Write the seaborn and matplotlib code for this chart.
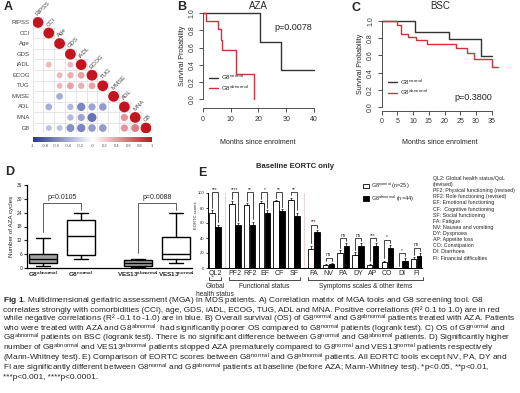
import matplotlib
matplotlib.use('Agg')
import matplotlib.pyplot as plt
from matplotlib.lines import Line2D
from matplotlib.patches import Patch
import matplotlib.transforms as mtransforms
import numpy as np
import pandas as pd
import seaborn as sns

W, H = 520, 393

# ---------------- data ----------------
# A) correlation matrix (lower triangle, read from circle size / colour)
mga_vars = ['RIPSS', 'CCI', 'Age', 'GDS', 'iADL', 'ECOG', 'TUG', 'MMSE', 'ADL', 'MNA', 'G8']
corr_row = ['iADL', 'iADL', 'ECOG', 'ECOG', 'ECOG', 'TUG', 'TUG', 'TUG', 'TUG', 'MMSE',
            'ADL', 'ADL', 'ADL', 'ADL', 'ADL', 'MNA', 'MNA', 'MNA', 'MNA',
            'G8', 'G8', 'G8', 'G8', 'G8', 'G8', 'G8', 'G8']
corr_col = ['CCI', 'GDS', 'Age', 'GDS', 'iADL', 'Age', 'GDS', 'iADL', 'ECOG', 'Age',
            'CCI', 'GDS', 'iADL', 'ECOG', 'TUG', 'GDS', 'iADL', 'ECOG', 'ADL',
            'CCI', 'Age', 'GDS', 'iADL', 'ECOG', 'TUG', 'ADL', 'MNA']
corr_r = [0.3, 0.3, 0.3, 0.35, 0.4, 0.3, 0.4, 0.35, 0.4, -0.4,
          -0.4, -0.35, -0.6, -0.45, -0.5, -0.35, -0.45, -0.7, 0.45,
          -0.3, -0.3, -0.55, -0.6, -0.5, -0.5, 0.45, 0.55]

# B) Kaplan-Meier, AZA
aza_norm_t = [0, 20.5, 28, 40]
aza_norm_s = [1.0, 0.667, 0.333, 0.333]
aza_abn_t = [0, 1, 5.5, 6.5, 7, 12, 18.5]
aza_abn_s = [1.0, 0.909, 0.818, 0.69, 0.57, 0.286, 0.0]

# C) Kaplan-Meier, BSC
bsc_norm_t = [0, 10.5, 21.5, 31.5, 35]
bsc_norm_s = [1.0, 0.875, 0.79, 0.59, 0.59]
bsc_abn_t = [0, 5, 6, 8.5, 11, 14.5, 23.5, 27, 29.5, 35, 37]
bsc_abn_s = [1.0, 0.95, 0.85, 0.81, 0.78, 0.73, 0.69, 0.63, 0.56, 0.47, 0.47]

# D) number of AZA cycles: min, q1, median, q3, max
cyc_g8_abn = [1, 2, 3.8, 6, 13]
cyc_g8_norm = [4, 5.5, 14, 21, 24]
cyc_ves_abn = [0.3, 1, 2.3, 3.6, 4]
cyc_ves_norm = [2, 4, 6, 13.5, 24]
d_pvals = ['p=0.0105', 'p=0.0088']

# E) EORTC scores
eortc_cats = ['QL2', 'PF2', 'RF2', 'EF', 'CF', 'SF', 'FA', 'NV', 'PA', 'DY', 'AP', 'CO', 'DI', 'FI']
eortc_groups = ['Global\nhealth status', 'Functional status', 'Symptoms scales & other items']
eortc_group_sizes = [1, 5, 8]
eortc_norm = [74, 86, 84, 87, 89, 91, 26, 4, 20, 18, 4, 8, 0, 12]
eortc_abn = [55, 57, 58, 74, 76, 70, 48, 5, 29, 29, 29, 27, 10, 16]
eortc_norm_se = [3, 3, 3, 2, 2, 3, 4, 2, 4, 3, 2, 2, 0, 3]
eortc_abn_se = [3, 3, 4, 3, 3, 4, 3, 2, 4, 4, 4, 4, 3, 4]
eortc_sig = ['***', '****', '**', '*', '**', '**', '***', 'ns', 'ns', 'ns', '***', '*', '*', 'ns']

# ---------------- style ----------------
sns.set_theme(style='white')
plt.rcParams['font.family'] = ['Liberation Sans', 'DejaVu Sans']
plt.rcParams['mathtext.fontset'] = 'custom'
plt.rcParams['mathtext.rm'] = 'Liberation Sans'
plt.rcParams['mathtext.bf'] = 'Liberation Sans:bold'
plt.rcParams['mathtext.default'] = 'regular'

NORM = 'G8$^{normal}$'
ABN = 'G8$^{abnormal}$'
red = '#d3313a'
dark = '#333333'
corr_cmap = sns.blend_palette(['#26369a', '#ffffff', '#c4141f'], as_cmap=True)

fig = plt.figure(figsize=(W / 100, H / 100), dpi=100)


def px_axes(x0, y0, x1, y1):
    return fig.add_axes([x0 / W, 1 - y1 / H, (x1 - x0) / W, (y1 - y0) / H])


def ftext(x, y, s, **kw):
    return fig.text(x / W, 1 - y / H, s, **kw)


# panel letters
for letter, x, y in [('A', 4, 7), ('B', 177, 7), ('C', 351, 8), ('D', 5, 172), ('E', 198, 173)]:
    ftext(x, y, letter, fontsize=9, fontweight='bold', va='center', ha='left')

# ---------------- A: correlation matrix ----------------
axA = px_axes(32.6, 17.2, 151.4, 133.3)
nv = len(mga_vars)
idx = {v: i for i, v in enumerate(mga_vars)}
cm = pd.DataFrame({'row': corr_row + mga_vars, 'col': corr_col + mga_vars,
                   'r': corr_r + [1.0] * nv})
cm['x'] = cm['col'].map(idx)
cm['y'] = cm['row'].map(idx)
cm['size'] = cm['r'].abs()
for k in range(nv + 1):
    axA.plot([-0.5, min(k, nv - 1) + 0.5], [k - 0.5, k - 0.5], color='#dddddd', lw=0.5, zorder=0)
    axA.plot([k - 0.5, k - 0.5], [max(k - 1, 0) - 0.5, nv - 0.5], color='#dddddd', lw=0.5, zorder=0)
sns.scatterplot(data=cm, x='x', y='y', hue='r', palette=corr_cmap, hue_norm=(-1, 1),
                size='size', sizes=(0, 60), size_norm=(0, 1), legend=False,
                linewidth=0, ax=axA, zorder=3)
axA.set_xlim(-0.5, nv - 0.5)
axA.set_ylim(nv - 0.5, -0.5)
axA.axis('off')
for v, i in idx.items():
    axA.text(-0.75, i, v, ha='right', va='center', fontsize=4.3, color='#444444')
    axA.text(i + 0.05, i - 0.55, v, ha='left', va='bottom', rotation=45,
             rotation_mode='anchor', fontsize=4.3, color='#444444')

caxA = px_axes(33, 137, 152, 142)
sm = plt.cm.ScalarMappable(cmap=corr_cmap, norm=plt.Normalize(-1, 1))
cb_ticks = np.round(np.arange(-1, 1.01, 0.2), 1)
cb = fig.colorbar(sm, cax=caxA, orientation='horizontal', ticks=cb_ticks)
cb.outline.set_visible(False)
cb.ax.tick_params(length=0, labelsize=3, pad=1.5, colors='#555555')
cb.ax.set_xticklabels(['%g' % t for t in cb_ticks])


# ---------------- B, C: survival ----------------
def km_panel(ax, t_n, s_n, t_a, s_a, xmax, xticks, title, ptxt, pxy, legxy, drop, cx):
    dfk = pd.concat([pd.DataFrame({'t': t_n, 's': s_n, 'g': 'normal'}),
                     pd.DataFrame({'t': t_a, 's': s_a, 'g': 'abnormal'})])
    sns.lineplot(data=dfk, x='t', y='s', hue='g', palette={'normal': dark, 'abnormal': red},
                 drawstyle='steps-post', estimator=None, sort=False, legend=False,
                 lw=1.0, ax=ax)
    ax.set_xlim(0, xmax)
    ax.set_ylim(-0.04, 1.04)
    ax.set_xticks(xticks)
    ax.set_yticks(np.round(np.arange(0, 1.01, 0.2), 1))
    ax.set_yticklabels(['%.1f' % v for v in np.arange(0, 1.01, 0.2)])
    ax.tick_params(direction='out', length=3, width=0.6, labelsize=5, pad=2.5,
                   colors='#333333', bottom=True, left=True)
    plt.setp(ax.get_yticklabels(), rotation=90, va='center')
    sns.despine(ax=ax)
    ax.spines['bottom'].set_position(('outward', drop))
    ax.spines['bottom'].set_bounds(xticks[0], xticks[-1])
    ax.spines['left'].set_bounds(0, 1)
    for s in ('left', 'bottom'):
        ax.spines[s].set_linewidth(0.6)
        ax.spines[s].set_color('#333333')
    ax.set_xlabel('')
    ax.set_ylabel('')
    ftext(cx, 142, 'Months since enrolment', fontsize=5, ha='center', va='center', color='#222222')
    bb = ax.get_position()
    fig.text(bb.x0 - 21 / W, (bb.y0 + bb.y1) / 2, 'Survival Probability', rotation=90,
             fontsize=5, ha='center', va='center', color='#222222')
    ftext(cx, 6, title, fontsize=7, ha='center', va='center')
    ftext(pxy[0], pxy[1], ptxt, fontsize=6.5, ha='center', va='center')
    hl = [Line2D([], [], color=dark, lw=1.0), Line2D([], [], color=red, lw=1.0)]
    ax.legend(hl, [NORM, ABN], loc='lower left', bbox_to_anchor=legxy, frameon=False,
              fontsize=4.5, handlelength=1.5, handletextpad=0.4, labelspacing=0.2,
              borderaxespad=0)


axB = px_axes(203, 9.9, 318.4, 102.4)
km_panel(axB, aza_norm_t, aza_norm_s, aza_abn_t, aza_abn_s, 41.6, [0, 10, 20, 30, 40],
         'AZA', 'p=0.0078', (293, 28), (0.03, 0.08), 4.0, 258)

axC = px_axes(381.7, 17.2, 502.7, 110.8)
km_panel(axC, bsc_norm_t, bsc_norm_s, bsc_abn_t, bsc_abn_s, 38.5, list(range(0, 36, 5)),
         'BSC', 'p=0.3800', (473, 97), (0.03, 0.12), 0.0, 440)

# ---------------- D: boxplots ----------------
axD = px_axes(26.7, 185, 192, 268)
dfD = pd.DataFrame({
    'cycles': cyc_g8_abn + cyc_g8_norm + cyc_ves_abn + cyc_ves_norm,
    'tool': ['G8'] * 10 + ['VES13'] * 10,
    'status': ['abnormal'] * 5 + ['normal'] * 5 + ['abnormal'] * 5 + ['normal'] * 5})
sns.boxplot(data=dfD, x='tool', y='cycles', hue='status', hue_order=['abnormal', 'normal'],
            palette={'abnormal': '#a3a3a3', 'normal': 'white'}, whis=(0, 100), width=0.8,
            gap=0.26, linecolor='black', linewidth=1.0, legend=False, ax=axD)
axD.set_xlim(-0.37, 1.37)
axD.set_ylim(0, 36)
axD.set_yticks(range(0, 37, 6))
box_x = [g + d for g in (0, 1) for d in (-0.2, 0.2)]
axD.set_xticks(box_x)
axD.set_xticklabels([ABN, NORM, 'VES13$^{abnormal}$', 'VES13$^{normal}$'],
                    fontsize=4.6, fontweight='bold')
axD.tick_params(axis='y', direction='out', length=2, width=0.8, labelsize=3.5, pad=1, left=True)
axD.tick_params(axis='x', length=0, pad=1.5)
axD.set_xlabel('')
axD.set_ylabel('Number of AZA cycles', fontsize=4.5, labelpad=2)
sns.despine(ax=axD)
for s in ['left', 'bottom']:
    axD.spines[s].set_linewidth(0.9)
    axD.spines[s].set_color('black')
groups_D = [(cyc_g8_abn, cyc_g8_norm), (cyc_ves_abn, cyc_ves_norm)]
top = max(max(a) for pair in groups_D for a in pair) + 4
for gi, (a, n) in enumerate(groups_D):
    xa, xn = box_x[2 * gi], box_x[2 * gi + 1]
    axD.plot([xa, xa, xn, xn], [max(a) + 2.5, top, top, max(n) + 1], color='#444444', lw=0.6)
    axD.text((xa + xn) / 2, top + 1.2, d_pvals[gi], ha='center', va='bottom', fontsize=5)

# ---------------- E: EORTC bars ----------------
axE = px_axes(208, 193, 422, 268)
grp_idx = np.repeat(np.arange(len(eortc_groups)), eortc_group_sizes)
pos = np.arange(len(eortc_cats)) + 0.36 * grp_idx
nc = len(eortc_cats)
dfE = pd.DataFrame({'pos': np.r_[pos, pos], 'score': eortc_norm + eortc_abn,
                    'grp': ['normal'] * nc + ['abnormal'] * nc})
sns.barplot(data=dfE, x='pos', y='score', hue='grp', hue_order=['normal', 'abnormal'],
            palette={'normal': 'white', 'abnormal': 'black'}, native_scale=True,
            width=0.82, gap=0.1, edgecolor='black', linewidth=0.6, errorbar=None,
            legend=False, ax=axE)
off = 0.82 / 4
axE.errorbar(pos - off, eortc_norm, yerr=[np.zeros(nc), eortc_norm_se], fmt='none',
             ecolor='black', elinewidth=0.5, capsize=1.0, capthick=0.5)
axE.errorbar(pos + off, eortc_abn, yerr=[np.zeros(nc), eortc_abn_se], fmt='none',
             ecolor='black', elinewidth=0.5, capsize=1.0, capthick=0.5)
axE.set_xlim(-0.48, pos[-1] + 0.36)
axE.set_ylim(0, 100)
axE.set_yticks(range(0, 101, 20))
axE.set_xticks(pos)
axE.set_xticklabels(eortc_cats, fontsize=5)
axE.tick_params(axis='y', direction='out', length=1.5, width=0.6, labelsize=3, pad=1, left=True)
axE.tick_params(axis='x', length=0, pad=1.5)
axE.set_xlabel('')
axE.set_ylabel('EORTC scores', fontsize=3, labelpad=2)
axE.yaxis.set_label_coords(-0.045, 0.7)
sns.despine(ax=axE)
for s in ['left', 'bottom']:
    axE.spines[s].set_linewidth(0.7)
    axE.spines[s].set_color('black')
# group separators
starts = np.cumsum([0] + eortc_group_sizes[:-1])
for st in starts[1:]:
    axE.axvline((pos[st - 1] + pos[st]) / 2, color='#ead6d6', lw=0.8, zorder=0)
# significance brackets
tops_n = np.array(eortc_norm) + np.array(eortc_norm_se)
tops_a = np.array(eortc_abn) + np.array(eortc_abn_se)
br_y = np.maximum(tops_n, tops_a) + 7
br_y[br_y > 70] = br_y[br_y > 70].max()
for k in range(nc):
    xs = [pos[k] - off, pos[k] - off, pos[k] + off, pos[k] + off]
    axE.plot(xs, [tops_n[k] + 3, br_y[k], br_y[k], tops_a[k] + 3], color='black', lw=0.5,
             clip_on=False)
    axE.text(pos[k], br_y[k] + 0.5, eortc_sig[k], ha='center', va='bottom', fontsize=3.5,
             clip_on=False)
# group brackets under the axis
trE = mtransforms.blended_transform_factory(axE.transData, axE.transAxes)
for gi, (st, sz) in enumerate(zip(starts, eortc_group_sizes)):
    x0, x1 = pos[st] - 0.42, pos[st + sz - 1] + 0.42
    axE.plot([x0, x0, x1, x1], [-0.115, -0.165, -0.165, -0.115], color='black', lw=0.5,
             transform=trE, clip_on=False)
    axE.text((x0 + x1) / 2, -0.2, eortc_groups[gi], transform=trE, ha='center', va='top',
             fontsize=4.8, linespacing=1.1)
ftext(295, 166, 'Baseline EORTC only', fontsize=5.5, fontweight='bold', ha='center', va='center')
fig.legend([Patch(facecolor='white', edgecolor='black', lw=0.6),
            Patch(facecolor='black', edgecolor='black', lw=0.6)],
           [NORM + ' (n=25)', ABN + ' (n=44)'], loc='upper left',
           bbox_to_anchor=(363 / W, 1 - 181 / H), frameon=False, fontsize=4,
           handlelength=1.0, handleheight=0.9, handletextpad=0.5, labelspacing=0.35,
           borderaxespad=0, borderpad=0)
abbrev = ('QL2: Global health status/QoL\n(revised)\nPF2: Physical functioning (revised)\n'
          'RF2: Role functioning (revised)\nEF: Emotional functioning\nCF:  Cognitive functioning\n'
          'SF: Social functioning\nFA: Fatigue\nNV: Nausea and vomiting\nDY: Dyspnoea\n'
          'AP: Appetite loss\nCO: Constipation\nDI: Diarrhoea\nFI: Financial difficulties')
ftext(433, 176, abbrev, fontsize=3.8, ha='left', va='top', linespacing=1.28, color='#222222')

# ---------------- caption ----------------
caption = [
    r'$\mathbf{Fig\ 1}$. Multidimensional geriatric assessment (MGA) in MDS patients. A) Correlation matrix of MGA tools and G8 screening tool. G8',
    'correlates strongly with comorbidities (CCI), age, GDS, iADL, ECOG, TUG, ADL and MNA. Positive correlations (R\u00b2 0.1 to 1.0) are in red',
    'while negative correlations (R\u00b2 -0.1 to -1.0) are in blue. B) Overall survival (OS) of ' + NORM + ' and ' + ABN + ' patients treated with AZA. Patients',
    'who were treated with AZA and ' + ABN + '  had significantly poorer OS compared to ' + NORM + ' patients (logrank test). C) OS of ' + NORM + ' and',
    ABN + ' patients on BSC (logrank test). There is no significant difference between ' + NORM + ' and ' + ABN + ' patients. D) Significantly higher',
    'number of ' + ABN + ' and VES13$^{abnormal}$ patients stopped AZA prematurely compared to ' + NORM + ' and VES13$^{normal}$ patients respectively',
    '(Mann-Whitney test). E) Comparison of EORTC scores between ' + NORM + ' and ' + ABN + ' patients. All EORTC tools except NV, PA, DY and',
    'FI are significantly different between ' + NORM + ' and ' + ABN + ' patients at baseline (before AZA; Mann-Whitney test). *p<0.05, **p<0.01,',
    '***p<0.001, ****p<0.0001.',
]
for i, line in enumerate(caption):
    ftext(3, 300 + 9.7 * i, line, fontsize=5.95, ha='left', va='center', color='#222222')

fig.savefig('out.png', dpi=100)
